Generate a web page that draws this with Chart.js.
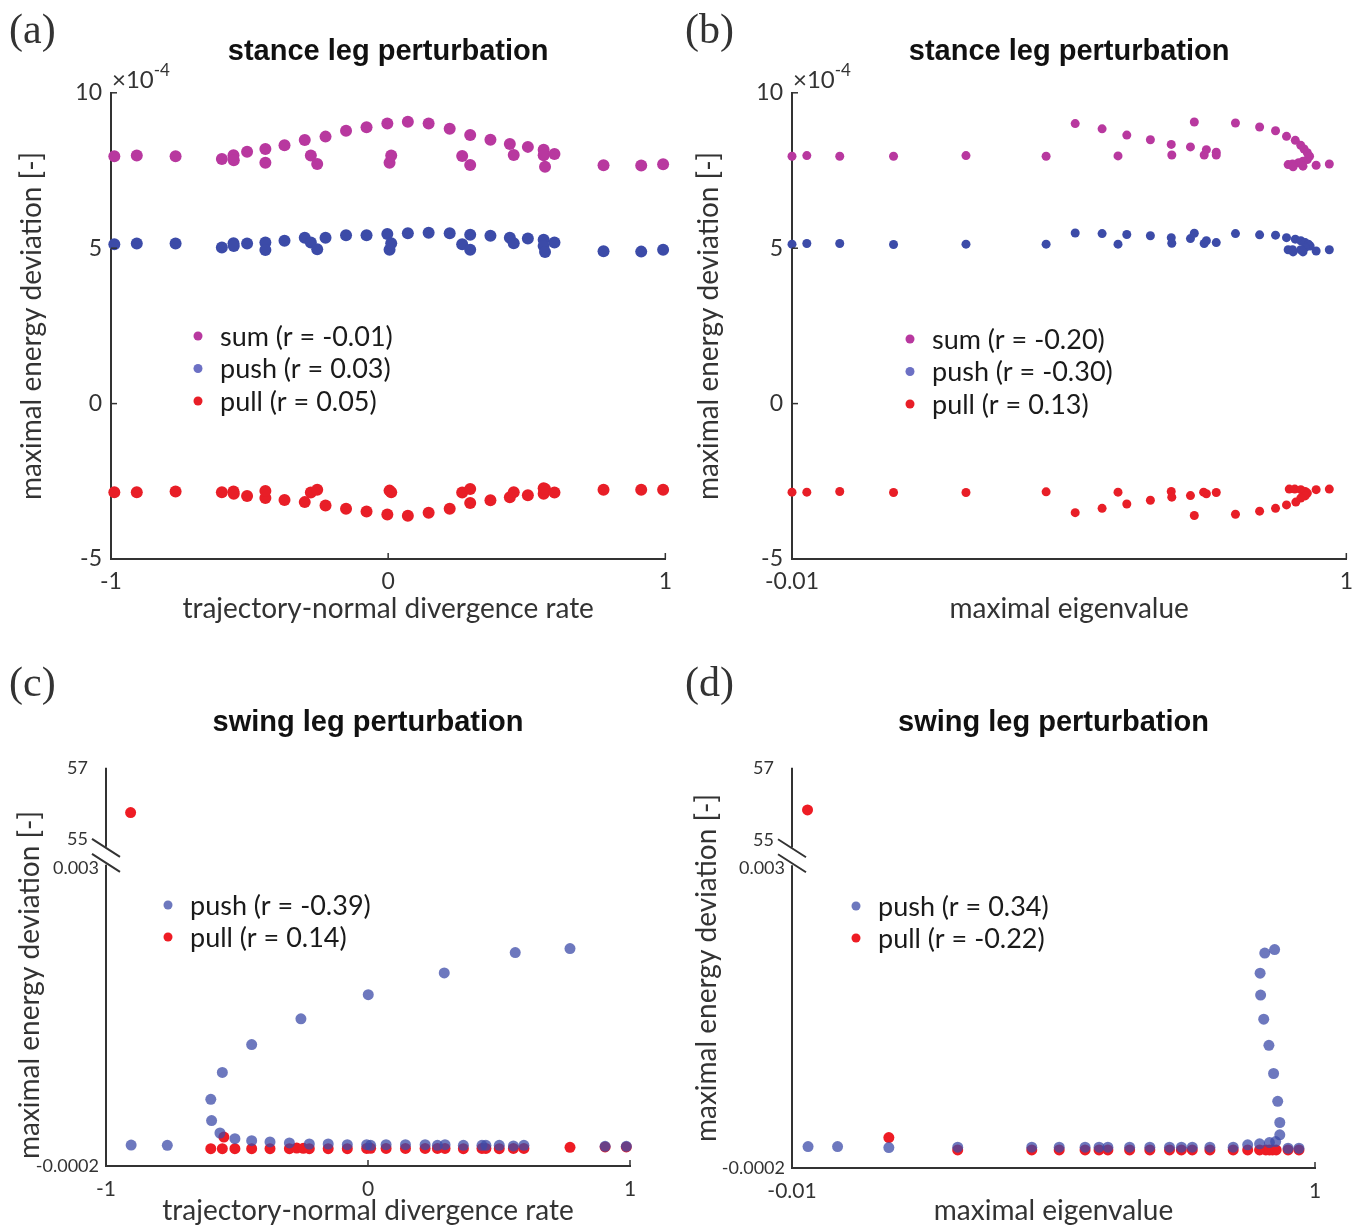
<!DOCTYPE html>
<html>
<head>
<meta charset="utf-8">
<script src="https://cdn.jsdelivr.net/npm/chart.js@4.4.1/dist/chart.umd.min.js"></script>
<style>
  body { margin: 0; width: 1362px; height: 1228px; background: #fff; position: relative; overflow: hidden; }
  canvas { position: absolute; }
  .letter { position: absolute; font-family: 'Liberation Serif', serif; font-size: 42px; line-height: 1; color: #333; }
  .expo { position: absolute; font-family: Lato, sans-serif; font-size: 24px; line-height: 1; color: #333; }
  .expo sup { font-size: 17px; position: relative; top: -3px; }
</style>
</head>
<body>
<canvas id="chartA" width="681" height="640" style="left:0;top:0;width:681px;height:640px"></canvas>
<canvas id="chartB" width="681" height="640" style="left:681px;top:0;width:681px;height:640px"></canvas>
<canvas id="chartC" width="681" height="588" style="left:0;top:640px;width:681px;height:588px"></canvas>
<canvas id="chartD" width="681" height="588" style="left:681px;top:640px;width:681px;height:588px"></canvas>

<div class="letter" style="left:9px;top:8px">(a)</div>
<div class="letter" style="left:685px;top:8px">(b)</div>
<div class="letter" style="left:9px;top:661px">(c)</div>
<div class="letter" style="left:685px;top:661px">(d)</div>
<div class="expo" style="left:112px;top:64px">×10<sup>-4</sup></div>
<div class="expo" style="left:793px;top:64px">×10<sup>-4</sup></div>

<script>
// (a) stance leg perturbation vs trajectory-normal divergence rate (y in 1e-4)
const stanceRate = [-0.988, -0.907, -0.767, -0.600, -0.558, -0.557, -0.509, -0.443, -0.443, -0.374, -0.301, -0.279, -0.256, -0.226, -0.152, -0.078, -0.003, 0.005, 0.011, 0.071, 0.146, 0.222, 0.267, 0.296, 0.296, 0.369, 0.439, 0.453, 0.504, 0.561, 0.561, 0.566, 0.600, 0.777, 0.913, 0.992];
const stanceSumA  = [7.96, 7.98, 7.96, 7.87, 7.99, 7.83, 8.10, 8.19, 7.75, 8.31, 8.48, 7.98, 7.71, 8.59, 8.78, 8.89, 9.01, 7.75, 7.98, 9.07, 9.01, 8.84, 7.97, 7.68, 8.64, 8.49, 8.35, 8.00, 8.26, 8.17, 7.99, 7.62, 8.03, 7.67, 7.66, 7.70];
const stancePushA = [5.13, 5.15, 5.15, 5.02, 5.16, 5.07, 5.15, 5.18, 4.94, 5.24, 5.34, 5.18, 4.97, 5.34, 5.42, 5.42, 5.46, 4.95, 5.16, 5.48, 5.50, 5.48, 5.13, 4.95, 5.43, 5.40, 5.34, 5.16, 5.31, 5.27, 5.07, 4.88, 5.18, 4.90, 4.89, 4.95];
const stancePullA = [-2.85, -2.85, -2.83, -2.85, -2.83, -2.90, -2.97, -3.04, -2.81, -3.10, -3.17, -2.86, -2.77, -3.28, -3.38, -3.47, -3.57, -2.80, -2.85, -3.61, -3.51, -3.38, -2.86, -2.75, -3.20, -3.11, -3.01, -2.85, -2.95, -2.90, -2.72, -2.75, -2.86, -2.77, -2.77, -2.77];

// (b) stance leg perturbation vs maximal eigenvalue (y in 1e-4)
const bSumX  = [-0.01, 0.017, 0.077, 0.175, 0.307, 0.453, 0.506, 0.555, 0.584, 0.600, 0.643, 0.681, 0.682, 0.716, 0.723, 0.741, 0.745, 0.763, 0.763, 0.798, 0.842, 0.871, 0.891, 0.907, 0.917, 0.923, 0.929, 0.933, 0.929, 0.921, 0.913, 0.902, 0.894, 0.903, 0.921, 0.945, 0.969];
const bSumY  = [7.96, 7.98, 7.96, 7.96, 7.98, 7.96, 9.01, 8.84, 7.97, 8.64, 8.49, 8.34, 8.00, 8.26, 9.06, 8.00, 8.17, 8.09, 8.00, 9.03, 8.90, 8.78, 8.60, 8.47, 8.31, 8.19, 8.07, 7.96, 7.85, 7.80, 7.75, 7.71, 7.69, 7.62, 7.64, 7.67, 7.71];
const bPushX = [-0.01, 0.017, 0.077, 0.175, 0.307, 0.453, 0.506, 0.555, 0.584, 0.600, 0.643, 0.681, 0.682, 0.716, 0.723, 0.741, 0.745, 0.763, 0.798, 0.842, 0.871, 0.891, 0.907, 0.917, 0.925, 0.931, 0.934, 0.925, 0.917, 0.902, 0.894, 0.903, 0.921, 0.945, 0.969];
const bPushY = [5.13, 5.15, 5.15, 5.12, 5.13, 5.13, 5.49, 5.47, 5.13, 5.44, 5.40, 5.34, 5.16, 5.31, 5.48, 5.15, 5.24, 5.18, 5.47, 5.43, 5.42, 5.34, 5.29, 5.24, 5.18, 5.13, 5.07, 5.02, 4.95, 4.95, 4.95, 4.88, 4.88, 4.91, 4.95];
const bPullX = [-0.01, 0.017, 0.077, 0.175, 0.307, 0.453, 0.506, 0.555, 0.584, 0.600, 0.643, 0.681, 0.682, 0.716, 0.723, 0.740, 0.745, 0.763, 0.798, 0.842, 0.871, 0.891, 0.896, 0.906, 0.917, 0.925, 0.929, 0.925, 0.917, 0.908, 0.945, 0.969];
const bPullY = [-2.85, -2.85, -2.83, -2.86, -2.86, -2.84, -3.51, -3.37, -2.85, -3.23, -3.11, -2.83, -3.01, -2.96, -3.60, -2.85, -2.90, -2.86, -3.56, -3.46, -3.37, -3.26, -2.75, -2.75, -2.77, -2.83, -2.88, -2.97, -3.04, -3.17, -2.77, -2.75];

// (c) swing leg perturbation vs trajectory-normal divergence rate
const cPushX = [-0.904, -0.766, -0.600, -0.597, -0.565, -0.556, -0.508, -0.444, -0.444, -0.374, -0.300, -0.256, -0.224, -0.152, -0.079, 0.001, -0.005, 0.010, 0.069, 0.143, 0.218, 0.265, 0.294, 0.291, 0.364, 0.435, 0.450, 0.501, 0.555, 0.562, 0.595, 0.771, 0.905, 0.986];
const cPushY = [0.000025, 0.000022, 0.000516, 0.000288, 0.000154, 0.000804, 0.000093, 0.001103, 0.000072, 0.000058, 0.000047, 0.001379, 0.000036, 0.000036, 0.000029, 0.001639, 0.000029, 0.000022, 0.000029, 0.000029, 0.000029, 0.000022, 0.000029, 0.001872, 0.000022, 0.000022, 0.000022, 0.000022, 0.000015, 0.002090, 0.000022, 0.002133, 0.000011, 0.000011];
const cPullX = [-0.600, -0.556, -0.550, -0.508, -0.444, -0.374, -0.300, -0.272, -0.247, -0.224, -0.152, -0.079, -0.005, 0.010, 0.069, 0.143, 0.218, 0.265, 0.294, 0.364, 0.435, 0.450, 0.501, 0.555, 0.595, 0.771, 0.905, 0.986];
const cPullY = [-0.000014, -0.000014, 0.000111, -0.000014, -0.000014, -0.000014, -0.000014, -0.000008, -0.000010, -0.000014, -0.000014, -0.000014, -0.000012, -0.000010, -0.000012, -0.000012, -0.000012, -0.000012, -0.000012, -0.000014, -0.000012, -0.000012, -0.000014, -0.000012, -0.000012, 0.000001, 0.000005, 0.000005];
const cPullTopX = [-0.906];
const cPullTopY = [55.75];

// (d) swing leg perturbation vs maximal eigenvalue
const dPushX = [0.021, 0.078, 0.177, 0.310, 0.453, 0.506, 0.556, 0.583, 0.600, 0.642, 0.681, 0.719, 0.742, 0.763, 0.797, 0.842, 0.870, 0.893, 0.912, 0.924, 0.932, 0.932, 0.928, 0.920, 0.911, 0.901, 0.895, 0.894, 0.903, 0.922, 0.948, 0.969];
const dPushY = [0.000029, 0.000029, 0.000018, 0.000022, 0.000022, 0.000022, 0.000022, 0.000022, 0.000022, 0.000022, 0.000022, 0.000022, 0.000022, 0.000022, 0.000022, 0.000022, 0.000047, 0.000058, 0.000072, 0.000082, 0.000154, 0.000286, 0.000512, 0.000809, 0.001110, 0.001389, 0.001647, 0.001880, 0.002095, 0.002133, 0.000011, 0.000011];
const dPullX = [0.177, 0.310, 0.453, 0.506, 0.556, 0.583, 0.600, 0.642, 0.681, 0.719, 0.742, 0.763, 0.797, 0.842, 0.870, 0.893, 0.905, 0.912, 0.918, 0.925, 0.948, 0.969];
const dPullY = [0.000125, -0.000007, -0.000007, -0.000007, -0.000007, -0.000007, -0.000007, -0.000007, -0.000007, -0.000007, -0.000007, -0.000007, -0.000007, -0.000007, -0.000007, -0.000007, -0.000007, -0.000007, -0.000007, -0.000007, -0.000007, -0.000007];
const dPullTopX = [0.020];
const dPullTopY = [55.83];

const rateTicks = [-1, 0, 1];
const eigTicks = [-0.01, 1];
const stanceTicks = [-5, 0, 5, 10];
const swingLowTicks = [-0.0002, 0.003];
const swingTopTicks = [55, 57];

const SUM = '#b8389f', PUSH = '#3c4ba8', PUSH_LIGHT = '#6c70c4', PULL = '#e81e27';
const PUSH_T = 'rgba(60,75,168,0.75)', PULL_C = '#ee1c24';

Chart.defaults.font.family = 'Lato, sans-serif';
Chart.defaults.color = '#333';

// MATLAB-like inward ticks, broken y axis and rotated title for swing panels
const axisDecor = {
  id: 'axisDecor',
  afterDraw(chart, args, opts) {
    const ctx = chart.ctx, area = chart.chartArea;
    ctx.save();
    ctx.strokeStyle = '#333';
    ctx.lineWidth = 1.5;
    const xs = chart.scales.x;
    xs.ticks.forEach(t => {
      const px = xs.getPixelForValue(t.value);
      ctx.beginPath(); ctx.moveTo(px, area.bottom); ctx.lineTo(px, area.bottom - 6); ctx.stroke();
    });
    if (opts.yTicks) {
      const ys = chart.scales.y;
      ys.ticks.forEach(t => {
        const py = ys.getPixelForValue(t.value);
        ctx.beginPath(); ctx.moveTo(area.left, py); ctx.lineTo(area.left + 6, py); ctx.stroke();
      });
    }
    if (opts.broken) {
      const split = chart.scales.yTop.bottom;
      const x = area.left;
      ctx.lineWidth = 2;
      ctx.beginPath();
      ctx.moveTo(x, area.top); ctx.lineTo(x, split - 7);
      ctx.moveTo(x, split + 11); ctx.lineTo(x, area.bottom + 1);
      [split - 6, split + 9].forEach(cy => {
        ctx.moveTo(x - 14, cy - 9); ctx.lineTo(x + 14, cy + 9);
      });
      ctx.stroke();
      ctx.translate(opts.titleX, opts.titleY);
      ctx.rotate(-Math.PI / 2);
      ctx.font = '28px Lato';
      ctx.fillStyle = '#333';
      ctx.textAlign = 'center';
      ctx.textBaseline = 'middle';
      ctx.fillText('maximal energy deviation [-]', 0, 0);
    }
    ctx.restore();
  }
};

const innerLegend = {
  id: 'innerLegend',
  afterDraw(chart, args, opts) {
    const ctx = chart.ctx;
    ctx.save();
    ctx.font = '27px Lato';
    ctx.textBaseline = 'middle';
    let i = 0;
    chart.data.datasets.forEach(ds => {
      if (ds.inLegend === false) return;
      const y = opts.y + i * opts.gap;
      ctx.beginPath();
      ctx.arc(opts.x, y, opts.r, 0, Math.PI * 2);
      ctx.fillStyle = ds.legendColor || ds.backgroundColor;
      ctx.fill();
      ctx.fillStyle = '#1a1a1a';
      ctx.fillText(ds.label, opts.x + 22, y + 1);
      i++;
    });
    ctx.restore();
  }
};

Chart.register(axisDecor, innerLegend);

function dots(label, xs, ys, color, r, extra) {
  return Object.assign({
    label: label,
    data: xs.map((x, i) => ({ x: x, y: ys[i] })),
    backgroundColor: color,
    pointRadius: r,
    pointHoverRadius: r,
    pointBorderWidth: 0,
    clip: false
  }, extra || {});
}

function fixedTicks(values) {
  return scale => { scale.ticks = values.map(v => ({ value: v })); };
}

function xScale(min, max, values, height, titlePad, tickPad, tickSize, title) {
  return {
    type: 'linear', min: min, max: max,
    afterBuildTicks: fixedTicks(values),
    afterFit: s => { s.height = height; },
    grid: { display: false, drawTicks: false },
    border: { display: true, color: '#333', width: 2 },
    ticks: { padding: tickPad, maxRotation: 0, autoSkip: false, font: { size: tickSize }, callback: v => String(v) },
    title: { display: true, text: title, font: { size: 28 }, color: '#333', padding: { top: 0, bottom: titlePad } }
  };
}

function titleOpts(text, top, bottom) {
  return {
    display: true, text: text, fullSize: false, color: '#111',
    font: { family: 'Liberation Sans, Arial, sans-serif', size: 29, weight: 'bold' },
    padding: { top: top, bottom: bottom }
  };
}

function stanceChart(id, datasets, xCfg, yTitlePad, legend) {
  return new Chart(document.getElementById(id), {
    type: 'scatter',
    data: { datasets: datasets },
    options: {
      responsive: false, animation: false, events: [],
      layout: { padding: { left: 0, right: 11, top: 0, bottom: 0 } },
      scales: {
        x: xCfg,
        y: {
          type: 'linear', min: -5, max: 10,
          afterBuildTicks: fixedTicks(stanceTicks),
          afterFit: s => { s.width = 111; },
          grid: { display: false, drawTicks: false },
          border: { display: true, color: '#333', width: 2 },
          ticks: { padding: 9, font: { size: 23 }, callback: v => String(v) },
          title: { display: true, text: 'maximal energy deviation [-]', font: { size: 28 }, color: '#333', padding: { top: yTitlePad, bottom: 0 } }
        }
      },
      plugins: {
        legend: { display: false }, tooltip: { enabled: false },
        title: titleOpts('stance leg perturbation', 35, 23),
        axisDecor: { yTicks: true },
        innerLegend: legend
      }
    }
  });
}

function swingChart(id, datasets, xCfg, yWidth, rightPad, decor, legend) {
  return new Chart(document.getElementById(id), {
    type: 'scatter',
    data: { datasets: datasets },
    options: {
      responsive: false, animation: false, events: [],
      layout: { padding: { left: 0, right: rightPad, top: 0, bottom: 0 } },
      scales: {
        x: xCfg,
        y: {
          type: 'linear', position: 'left', stack: 'swing', stackWeight: 312,
          min: -0.0002, max: 0.00315,
          afterBuildTicks: fixedTicks(swingLowTicks),
          afterFit: s => { s.width = yWidth; },
          grid: { display: false, drawTicks: false },
          border: { display: false },
          ticks: { padding: 7, font: { size: 18 }, callback: v => String(v) }
        },
        yTop: {
          type: 'linear', position: 'left', stack: 'swing', stackWeight: 86,
          min: 54.6, max: 57,
          afterBuildTicks: fixedTicks(swingTopTicks),
          afterFit: s => { s.width = yWidth; },
          grid: { display: false, drawTicks: false },
          border: { display: false },
          ticks: { padding: 18, font: { size: 18 }, callback: v => String(v) }
        }
      },
      plugins: {
        legend: { display: false }, tooltip: { enabled: false },
        title: titleOpts('swing leg perturbation', 66, 27),
        axisDecor: decor,
        innerLegend: legend
      }
    }
  });
}

stanceChart('chartA', [
  dots('sum (r = -0.01)', stanceRate, stanceSumA, SUM, 6),
  dots('push (r = 0.03)', stanceRate, stancePushA, PUSH, 6, { legendColor: PUSH_LIGHT }),
  dots('pull (r = 0.05)', stanceRate, stancePullA, PULL, 6)
], xScale(-1, 1, rateTicks, 81, 14, 9, 23, 'trajectory-normal divergence rate'), 15,
  { x: 198, y: 336, gap: 32.5, r: 4.5 });

stanceChart('chartB', [
  dots('sum (r = -0.20)', bSumX, bSumY, SUM, 4.5),
  dots('push (r = -0.30)', bPushX, bPushY, PUSH, 4.5, { legendColor: PUSH_LIGHT }),
  dots('pull (r = 0.13)', bPullX, bPullY, PULL, 4.5)
], xScale(-0.01, 1, eigTicks, 81, 14, 9, 23, 'maximal eigenvalue'), 11,
  { x: 229, y: 339, gap: 32.5, r: 4.5 });

swingChart('chartC', [
  dots('push (r = -0.39)', cPushX, cPushY, PUSH_T, 5.5),
  dots('pull (r = 0.14)', cPullX, cPullY, PULL_C, 5.5),
  dots('pull', cPullTopX, cPullTopY, PULL_C, 5.5, { yAxisID: 'yTop', inLegend: false })
], xScale(-1, 1, rateTicks, 62, 0, 11, 21, 'trajectory-normal divergence rate'), 106, 51,
  { broken: true, titleX: 30, titleY: 345 },
  { x: 168, y: 265, gap: 32, r: 4.5 });

swingChart('chartD', [
  dots('push (r = 0.34)', dPushX, dPushY, PUSH_T, 5.5),
  dots('pull (r = -0.22)', dPullX, dPullY, PULL_C, 5.5),
  dots('pull', dPullTopX, dPullTopY, PULL_C, 5.5, { yAxisID: 'yTop', inLegend: false })
], xScale(-0.01, 1, eigTicks, 60, 0, 11, 21, 'maximal eigenvalue'), 111, 47,
  { broken: true, titleX: 26, titleY: 328 },
  { x: 175, y: 266, gap: 32, r: 4.5 });
</script>
</body>
</html>
